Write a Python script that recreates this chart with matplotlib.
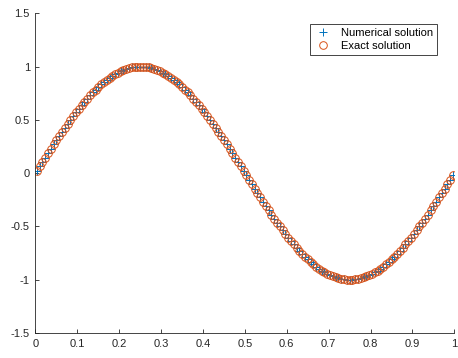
import matplotlib
matplotlib.use("Agg")
import matplotlib.pyplot as plt

plt.rcParams['font.family'] = ['Liberation Sans', 'DejaVu Sans']

x = [0.0033, 0.0100, 0.0167, 0.0233, 0.0300, 0.0367, 0.0433, 0.0500, 0.0567, 0.0633, 0.0700, 0.0767, 0.0833, 0.0900, 0.0967,
     0.1033, 0.1100, 0.1167, 0.1233, 0.1300, 0.1367, 0.1433, 0.1500, 0.1567, 0.1633, 0.1700, 0.1767, 0.1833, 0.1900, 0.1967,
     0.2033, 0.2100, 0.2167, 0.2233, 0.2300, 0.2367, 0.2433, 0.2500, 0.2567, 0.2633, 0.2700, 0.2767, 0.2833, 0.2900, 0.2967,
     0.3033, 0.3100, 0.3167, 0.3233, 0.3300, 0.3367, 0.3433, 0.3500, 0.3567, 0.3633, 0.3700, 0.3767, 0.3833, 0.3900, 0.3967,
     0.4033, 0.4100, 0.4167, 0.4233, 0.4300, 0.4367, 0.4433, 0.4500, 0.4567, 0.4633, 0.4700, 0.4767, 0.4833, 0.4900, 0.4967,
     0.5033, 0.5100, 0.5167, 0.5233, 0.5300, 0.5367, 0.5433, 0.5500, 0.5567, 0.5633, 0.5700, 0.5767, 0.5833, 0.5900, 0.5967,
     0.6033, 0.6100, 0.6167, 0.6233, 0.6300, 0.6367, 0.6433, 0.6500, 0.6567, 0.6633, 0.6700, 0.6767, 0.6833, 0.6900, 0.6967,
     0.7033, 0.7100, 0.7167, 0.7233, 0.7300, 0.7367, 0.7433, 0.7500, 0.7567, 0.7633, 0.7700, 0.7767, 0.7833, 0.7900, 0.7967,
     0.8033, 0.8100, 0.8167, 0.8233, 0.8300, 0.8367, 0.8433, 0.8500, 0.8567, 0.8633, 0.8700, 0.8767, 0.8833, 0.8900, 0.8967,
     0.9033, 0.9100, 0.9167, 0.9233, 0.9300, 0.9367, 0.9433, 0.9500, 0.9567, 0.9633, 0.9700, 0.9767, 0.9833, 0.9900, 0.9967]

exact = [0.021, 0.063, 0.105, 0.146, 0.187, 0.228, 0.269, 0.309, 0.349, 0.388,
         0.426, 0.463, 0.500, 0.536, 0.571, 0.605, 0.637, 0.669, 0.700, 0.729,
         0.757, 0.784, 0.809, 0.833, 0.855, 0.876, 0.896, 0.914, 0.930, 0.944,
         0.957, 0.969, 0.978, 0.986, 0.992, 0.997, 0.999, 1.000, 0.999, 0.997,
         0.992, 0.986, 0.978, 0.969, 0.957, 0.944, 0.930, 0.914, 0.896, 0.876,
         0.855, 0.833, 0.809, 0.784, 0.757, 0.729, 0.700, 0.669, 0.637, 0.605,
         0.571, 0.536, 0.500, 0.463, 0.426, 0.388, 0.349, 0.309, 0.269, 0.228,
         0.187, 0.146, 0.105, 0.063, 0.021,
         -0.021, -0.063, -0.105, -0.146, -0.187, -0.228, -0.269, -0.309, -0.349, -0.388,
         -0.426, -0.463, -0.500, -0.536, -0.571, -0.605, -0.637, -0.669, -0.700, -0.729,
         -0.757, -0.784, -0.809, -0.833, -0.855, -0.876, -0.896, -0.914, -0.930, -0.944,
         -0.957, -0.969, -0.978, -0.986, -0.992, -0.997, -0.999, -1.000, -0.999, -0.997,
         -0.992, -0.986, -0.978, -0.969, -0.957, -0.944, -0.930, -0.914, -0.896, -0.876,
         -0.855, -0.833, -0.809, -0.784, -0.757, -0.729, -0.700, -0.669, -0.637, -0.605,
         -0.571, -0.536, -0.500, -0.463, -0.426, -0.388, -0.349, -0.309, -0.269, -0.228,
         -0.187, -0.146, -0.105, -0.063, -0.021]

numerical = [0.021, 0.063, 0.105, 0.146, 0.187, 0.228, 0.269, 0.309, 0.349, 0.388,
             0.426, 0.463, 0.500, 0.536, 0.571, 0.605, 0.637, 0.669, 0.700, 0.729,
             0.757, 0.784, 0.809, 0.833, 0.855, 0.876, 0.896, 0.914, 0.930, 0.944,
             0.957, 0.969, 0.978, 0.986, 0.992, 0.997, 0.999, 1.000, 0.999, 0.997,
             0.992, 0.986, 0.978, 0.969, 0.957, 0.944, 0.930, 0.914, 0.896, 0.876,
             0.855, 0.833, 0.809, 0.784, 0.757, 0.729, 0.700, 0.669, 0.637, 0.605,
             0.571, 0.536, 0.500, 0.463, 0.426, 0.388, 0.349, 0.309, 0.269, 0.228,
             0.187, 0.146, 0.105, 0.063, 0.021,
             -0.021, -0.063, -0.105, -0.146, -0.187, -0.228, -0.269, -0.309, -0.349, -0.388,
             -0.426, -0.463, -0.500, -0.536, -0.571, -0.605, -0.637, -0.669, -0.700, -0.729,
             -0.757, -0.784, -0.809, -0.833, -0.855, -0.876, -0.896, -0.914, -0.930, -0.944,
             -0.957, -0.969, -0.978, -0.986, -0.992, -0.997, -0.999, -1.000, -0.999, -0.997,
             -0.992, -0.986, -0.978, -0.969, -0.957, -0.944, -0.930, -0.914, -0.896, -0.876,
             -0.855, -0.833, -0.809, -0.784, -0.757, -0.729, -0.700, -0.669, -0.637, -0.605,
             -0.571, -0.536, -0.500, -0.463, -0.426, -0.388, -0.349, -0.309, -0.269, -0.228,
             -0.187, -0.146, -0.105, -0.063, -0.021]

xticks = [0, 0.1, 0.2, 0.3, 0.4, 0.5, 0.6, 0.7, 0.8, 0.9, 1]
xtick_labels = ['0', '0.1', '0.2', '0.3', '0.4', '0.5', '0.6', '0.7', '0.8', '0.9', '1']
yticks = [-1.5, -1, -0.5, 0, 0.5, 1, 1.5]
ytick_labels = ['-1.5', '-1', '-0.5', '0', '0.5', '1', '1.5']

blue = '#0072BD'
orange = '#D95319'
axcol = '#262626'

fig = plt.figure(figsize=(4.58, 3.58), dpi=100)
ax = fig.add_axes([0.0775, 0.0698, 0.9145, 0.893])

ax.plot(x, numerical, linestyle='none', marker='+', color=blue,
        markersize=5.5, markeredgewidth=0.7, label='Numerical solution')
ax.plot(x, exact, linestyle='none', marker='o', markerfacecolor='none',
        markeredgecolor=orange, markersize=5.5, markeredgewidth=0.7,
        label='Exact solution')

ax.set_xlim(0, 1)
ax.set_ylim(-1.5, 1.5)
ax.set_xticks(xticks)
ax.set_xticklabels(xtick_labels)
ax.set_yticks(yticks)
ax.set_yticklabels(ytick_labels)

for s in ['top', 'right']:
    ax.spines[s].set_visible(False)
for s in ['left', 'bottom']:
    ax.spines[s].set_color(axcol)
    ax.spines[s].set_linewidth(0.6)

ax.tick_params(direction='in', length=3, width=0.6, color=axcol,
               labelcolor=axcol, labelsize=8, pad=4)

leg = ax.legend(loc='upper right', bbox_to_anchor=(0.958, 0.966),
                borderaxespad=0, fontsize=8, frameon=True, fancybox=False,
                edgecolor=axcol, handlelength=1.6, handletextpad=0.8,
                borderpad=0.35, labelspacing=0.25, framealpha=1)
leg.get_frame().set_linewidth(0.6)

fig.savefig('out.png', dpi=100)
